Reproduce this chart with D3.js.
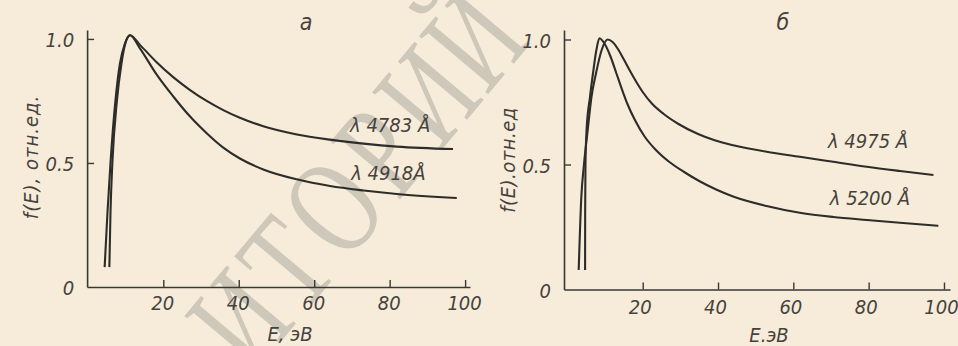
<!DOCTYPE html>
<html><head><meta charset="utf-8">
<script src="https://cdn.jsdelivr.net/npm/d3@7"></script>
<style>
html,body{margin:0;padding:0;background:#f7ecd9;}
svg{display:block;}
.lbl{font-family:"Liberation Sans Narrow","DejaVu Sans Condensed",sans-serif;font-style:italic;fill:#45423d;}
</style></head><body>
<svg id="c" width="958" height="346"></svg>
<script>
// ---- data ----
const panelNames = ["а", "б"];
const xTickValues = [20, 40, 60, 80, 100];
const yTickValues = [0.5, 1.0];
const yLabelValues = [0, 0.5, 1.0];
const yLabelTexts = ["0", "0.5", "1.0"];
const xTitles = ["E, эВ", "E.эВ"];
const yTitles = ["f(E), отн.ед.", "f(E).отн.ед"];
const seriesNames = ["λ 4783 Å", "λ 4918Å", "λ 4975 Å", "λ 5200 Å"];

// panel а
const e4783 = [4.45, 5.2, 6.0, 7.3, 8.5, 9.8, 11.2, 13.8, 18.3, 22.7, 27.1, 31.5, 35.9, 40.3, 46.5, 55.4, 64.2, 73.1, 81.9, 96.8];
const f4783 = [0.08, 0.30, 0.50, 0.75, 0.90, 0.98, 1.015, 0.976, 0.905, 0.845, 0.794, 0.750, 0.713, 0.682, 0.648, 0.615, 0.594, 0.578, 0.566, 0.556];
const e4918 = [5.7, 6.0, 6.5, 7.7, 8.9, 9.9, 11.2, 13.8, 18.3, 22.7, 27.1, 31.5, 35.9, 40.3, 46.5, 55.4, 64.2, 73.1, 81.9, 97.8];
const f4918 = [0.08, 0.30, 0.50, 0.75, 0.90, 0.98, 1.015, 0.962, 0.855, 0.767, 0.687, 0.620, 0.562, 0.518, 0.474, 0.434, 0.407, 0.389, 0.375, 0.359];
// panel б
const e4975 = [3.0, 3.7, 4.4, 5.4, 6.4, 7.6, 9.1, 10.7, 12.0, 13.5, 15.0, 16.5, 18.0, 20.0, 22.5, 25.5, 29.5, 34.7, 39.1, 44.0, 52.9, 61.7, 70.6, 79.5, 88.3, 97.2];
const f4975 = [0.078, 0.37, 0.50, 0.638, 0.771, 0.865, 0.958, 1.0, 0.99, 0.96, 0.92, 0.878, 0.838, 0.79, 0.743, 0.703, 0.662, 0.622, 0.597, 0.577, 0.551, 0.531, 0.511, 0.491, 0.474, 0.458];
const e5200 = [4.7, 4.72, 4.8, 5.1, 6.0, 6.8, 7.7, 8.5, 10.0, 11.5, 13.0, 14.5, 16.0, 18.0, 20.5, 23.5, 27.0, 31.0, 35.0, 39.5, 44.0, 52.9, 61.7, 70.6, 79.5, 88.3, 98.5];
const f5200 = [0.078, 0.30, 0.50, 0.64, 0.77, 0.865, 0.958, 1.005, 0.98, 0.93, 0.865, 0.80, 0.74, 0.676, 0.612, 0.558, 0.511, 0.470, 0.434, 0.400, 0.372, 0.334, 0.307, 0.29, 0.278, 0.267, 0.255];

const watermark = "ИТОРИЙ Г";

// ---- drawing ----
const svg = d3.select("#c");
svg.append("rect").attr("width", 958).attr("height", 346).attr("fill", "#f7ecd9");

// watermark stamp of the scanned page
const wm = svg.append("g");
const ang = 50 * Math.PI / 180, step = 73;
Array.from(watermark).forEach((ch, i) => {
  const cx = 333 + (i - 2) * step * Math.cos(ang);
  const cy = 207 - (i - 2) * step * Math.sin(ang);
  wm.append("text")
    .attr("transform", `translate(${cx},${cy}) rotate(-50) scale(0.72,1)`)
    .attr("text-anchor", "middle")
    .attr("dominant-baseline", "central")
    .attr("font-family", "Liberation Serif, DejaVu Serif, serif")
    .attr("font-size", 138)
    .attr("fill", "#cec8bb")
    .text(ch);
});

const ink = "#2e2c29";

const panels = [
  {
    x: d3.scaleLinear([-0.2, 101.3], [87.1, 470]),
    y: d3.scaleLinear([0, 1.036], [287, 30]),
    series: [[e4783, f4783], [e4918, f4918]],
    pad: 9, tdx: -1,
    labels: [[69.5, 0.626], [69.8, 0.431]],
    title: [290, 341], ytitle: [38, 157], name: [306, 30], ls: 1
  },
  {
    x: d3.scaleLinear([-0.9, 101.6], [564, 950]),
    y: d3.scaleLinear([0, 1.038], [289.5, 30]),
    series: [[e4975, f4975], [e5200, f5200]],
    pad: 10, tdx: -3,
    labels: [[69.2, 0.565], [69.7, 0.338]],
    title: [769, 342], ytitle: [515, 160], name: [783, 30], ls: 0.5
  }
];

panels.forEach((p, pi) => {
  const g = svg.append("g");
  const x0 = p.x.range()[0];

  const gx = g.append("g")
    .attr("transform", `translate(0,${p.y(0)})`)
    .call(d3.axisBottom(p.x).tickValues(xTickValues).tickSize(-7).tickSizeOuter(0)
      .tickPadding(p.pad).tickFormat(d3.format("d")));
  const gy = g.append("g")
    .attr("transform", `translate(${x0},0)`)
    .call(d3.axisLeft(p.y).tickValues(yTickValues).tickSize(-7).tickSizeOuter(0).tickFormat(() => ""));
  [gx, gy].forEach(a => {
    a.select(".domain").attr("stroke", "#3a3835").attr("stroke-width", 1.6);
    a.selectAll(".tick line").attr("stroke", "#3a3835").attr("stroke-width", 1.4);
    a.selectAll(".tick text").attr("class", "lbl").attr("font-size", 20)
      .attr("font-family", null).attr("fill", null).attr("dx", p.tdx);
  });

  g.selectAll(".ylab").data(yLabelValues).join("text")
    .attr("class", "lbl").attr("font-size", 20)
    .attr("text-anchor", "end")
    .attr("x", x0 - 13).attr("y", d => p.y(d)).attr("dy", "0.4em")
    .text((d, i) => yLabelTexts[i]);

  g.append("text").attr("class", "lbl").attr("font-size", 20)
    .attr("text-anchor", "middle").attr("x", p.title[0]).attr("y", p.title[1])
    .text(xTitles[pi]);
  g.append("text").attr("class", "lbl").attr("font-size", 20)
    .attr("text-anchor", "middle")
    .attr("transform", `translate(${p.ytitle[0]},${p.ytitle[1]}) rotate(-90)`)
    .attr("letter-spacing", p.ls)
    .text(yTitles[pi]);
  g.append("text").attr("class", "lbl").attr("font-size", 23)
    .attr("text-anchor", "middle").attr("x", p.name[0]).attr("y", p.name[1])
    .text(panelNames[pi]);

  const line = d3.line().x(d => p.x(d[0])).y(d => p.y(d[1])).curve(d3.curveMonotoneX);
  p.series.forEach(([es, fs], si) => {
    const pts = es.map((e, k) => [e, fs[k]]);
    g.append("path").datum(pts).attr("d", line)
      .attr("fill", "none").attr("stroke", ink).attr("stroke-width", 2.1)
      .attr("stroke-linejoin", "round");
    const lp = p.labels[si];
    g.append("text").attr("class", "lbl").attr("font-size", 20)
      .attr("x", p.x(lp[0])).attr("y", p.y(lp[1]))
      .text(seriesNames[pi * 2 + si]);
  });
});
</script>
</body></html>
